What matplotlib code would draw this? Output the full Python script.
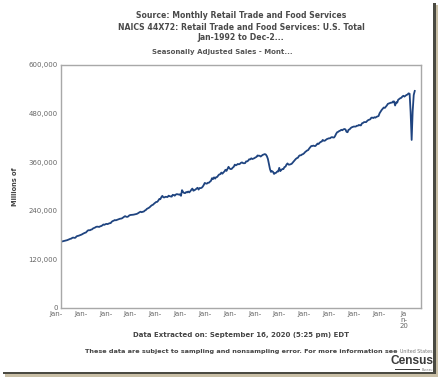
import matplotlib
matplotlib.use("Agg")
import matplotlib.pyplot as plt
import matplotlib.transforms as mtransforms
from matplotlib.patches import Rectangle
import pandas as pd

# Monthly sales (thousands of millions -> values in millions), Jan-1992 .. Jul-2020
sales_1992 = [164.1, 164.3, 164.9, 165.8, 166.4, 167.0, 167.5, 168.6, 169.5, 170.8, 171.4, 173.4]
sales_1993 = [173.8, 173.2, 173.6, 176.8, 177.8, 178.4, 179.3, 180.1, 181.4, 183.0, 184.3, 185.6]
sales_1994 = [186.3, 188.9, 191.4, 192.2, 191.9, 193.4, 194.1, 196.5, 197.6, 198.7, 200.4, 200.9]
sales_1995 = [200.6, 200.2, 201.8, 202.4, 204.0, 206.2, 205.3, 206.9, 207.7, 207.1, 208.3, 209.4]
sales_1996 = [209.6, 212.9, 214.6, 215.6, 217.2, 216.5, 217.4, 218.2, 219.3, 220.4, 220.7, 221.5]
sales_1997 = [223.5, 225.3, 226.8, 225.4, 224.9, 226.0, 228.5, 229.6, 229.8, 230.1, 230.4, 231.0]
sales_1998 = [231.9, 232.2, 233.2, 235.0, 236.5, 237.8, 236.5, 237.6, 238.1, 240.5, 241.9, 244.7]
sales_1999 = [246.0, 247.5, 249.4, 252.0, 253.9, 255.0, 257.6, 259.6, 261.8, 262.0, 265.0, 269.0]
sales_2000 = [268.6, 273.7, 276.9, 273.2, 273.1, 274.6, 274.4, 274.0, 277.3, 276.2, 275.4, 275.0]
sales_2001 = [279.5, 278.6, 277.3, 280.1, 281.2, 280.5, 280.1, 280.7, 277.0, 291.0, 286.5, 284.0]
sales_2002 = [283.6, 286.3, 285.4, 287.6, 285.4, 288.2, 291.8, 294.9, 289.6, 290.8, 292.5, 294.8]
sales_2003 = [296.9, 292.4, 296.2, 296.0, 296.8, 299.5, 303.6, 308.8, 307.5, 306.9, 309.3, 309.2]
sales_2004 = [311.9, 314.1, 320.6, 318.3, 322.6, 319.4, 323.0, 323.5, 327.3, 329.8, 330.4, 334.4]
sales_2005 = [331.6, 334.8, 337.1, 341.3, 338.4, 343.3, 348.6, 344.4, 343.0, 343.4, 346.6, 348.6]
sales_2006 = [354.0, 352.2, 353.6, 355.7, 354.8, 356.0, 358.4, 359.5, 357.7, 357.4, 357.8, 362.0]
sales_2007 = [362.0, 364.0, 367.3, 366.9, 369.6, 367.8, 369.0, 370.0, 371.8, 373.0, 376.6, 376.0]
sales_2008 = [376.0, 374.0, 376.0, 378.0, 379.0, 380.0, 379.0, 375.0, 368.0, 356.0, 343.0, 336.0]
sales_2009 = [338.0, 336.0, 331.0, 333.0, 334.0, 337.0, 337.0, 346.0, 338.0, 341.0, 343.0, 343.0]
sales_2010 = [348.0, 349.0, 354.0, 357.0, 354.0, 354.0, 355.0, 356.0, 359.0, 362.0, 365.0, 368.0]
sales_2011 = [370.0, 371.0, 375.0, 377.0, 377.0, 379.0, 380.0, 382.0, 385.0, 387.0, 389.0, 390.0]
sales_2012 = [394.0, 397.0, 400.0, 400.0, 401.0, 400.0, 400.0, 403.0, 406.0, 405.0, 408.0, 410.0]
sales_2013 = [411.0, 415.0, 413.0, 413.0, 415.0, 417.0, 418.0, 419.0, 419.0, 421.0, 422.0, 421.0]
sales_2014 = [421.0, 425.0, 430.0, 434.0, 435.0, 437.0, 438.0, 440.0, 439.0, 441.0, 442.0, 441.0]
sales_2015 = [435.0, 434.0, 440.0, 441.0, 444.0, 446.0, 447.0, 448.0, 448.0, 448.0, 450.0, 450.0]
sales_2016 = [452.0, 451.0, 451.0, 456.0, 457.0, 459.0, 459.0, 459.0, 462.0, 464.0, 465.0, 466.0]
sales_2017 = [470.0, 470.0, 469.0, 471.0, 470.0, 472.0, 473.0, 474.0, 481.0, 485.0, 489.0, 492.0]
sales_2018 = [495.0, 494.0, 497.0, 500.0, 504.0, 505.0, 506.0, 507.0, 507.0, 510.0, 510.0, 500.0]
sales_2019 = [508.0, 507.0, 514.0, 516.0, 518.0, 519.0, 522.0, 524.0, 522.0, 524.0, 526.0, 527.0]
sales_2020 = [530.0, 529.0, 484.0, 415.0, 486.0, 526.0, 536.0]

yearly = [sales_1992, sales_1993, sales_1994, sales_1995, sales_1996, sales_1997,
          sales_1998, sales_1999, sales_2000, sales_2001, sales_2002, sales_2003,
          sales_2004, sales_2005, sales_2006, sales_2007, sales_2008, sales_2009,
          sales_2010, sales_2011, sales_2012, sales_2013, sales_2014, sales_2015,
          sales_2016, sales_2017, sales_2018, sales_2019, sales_2020]
values = [v * 1000 for yr in yearly for v in yr]
dates = pd.date_range("1992-01-01", periods=len(values), freq="MS")

tick_years = list(range(1992, 2021, 2))
tick_labels = ["Jan-"] * (len(tick_years) - 1) + ["Ja\nn-\n20"]
y_ticks = [0, 120000, 240000, 360000, 480000, 600000]
y_tick_labels = ["0", "120,000", "240,000", "360,000", "480,000", "600,000"]

W, H = 439, 377
fig = plt.figure(figsize=(W / 100, H / 100), dpi=100)
fig.patch.set_facecolor("white")

def fx(px):
    return px / W

def fy(py):
    return 1 - py / H

ax = fig.add_axes([fx(61), fy(308), fx(421) - fx(61), fy(65) - fy(308)])
ax.plot(dates, values, color="#1f4480", lw=1.3, solid_joinstyle="round")
ax.set_xlim(pd.Timestamp("1992-01-01"), pd.Timestamp("2021-01-01"))
ax.set_ylim(0, 600000)
for s in ax.spines.values():
    s.set_color("#a8a8a8")
    s.set_linewidth(1.0)

ax.set_xticks([pd.Timestamp(f"{y}-01-01") for y in tick_years])
ax.set_xticklabels(tick_labels, fontsize=5, color="#666666", linespacing=1.0, va="top")
ax.set_yticks(y_ticks)
ax.set_yticklabels(y_tick_labels, fontsize=5, color="#666666")
ax.tick_params(axis="both", length=0)
ax.tick_params(axis="x", pad=2)
ax.tick_params(axis="y", pad=2.5)
offset = mtransforms.ScaledTranslation(-5 / 100, 0, fig.dpi_scale_trans)
for lab in ax.get_xticklabels():
    lab.set_transform(lab.get_transform() + offset)

fig.text(fx(15), fy(187), "Millions of", rotation=90, fontsize=4.8, fontweight="bold",
         color="#444444", ha="center", va="center")

title_kw = dict(fontsize=5.6, fontweight="bold", color="#4a4a4a", ha="center", va="center")
fig.text(fx(241), fy(16), "Source: Monthly Retail Trade and Food Services", **title_kw)
fig.text(fx(241), fy(27), "NAICS 44X72: Retail Trade and Food Services: U.S. Total", **title_kw)
fig.text(fx(241), fy(38), "Jan-1992 to Dec-2...", **title_kw)
fig.text(fx(222), fy(52), "Seasonally Adjusted Sales - Mont...", fontsize=5, fontweight="bold",
         color="#555555", ha="center", va="center")

fig.text(fx(241), fy(335), "Data Extracted on: September 16, 2020 (5:25 pm) EDT", fontsize=5,
         fontweight="bold", color="#444444", ha="center", va="center")
fig.text(fx(241), fy(351), "These data are subject to sampling and nonsampling error. For more information see",
         fontsize=4.65, fontweight="bold", color="#444444", ha="center", va="center")

# Census logo as text
fig.text(fx(433), fy(351.5), "United States", fontsize=3.4, color="#777777", ha="right", va="center")
fig.text(fx(433.5), fy(361.5), "Census", fontsize=8.6, fontweight="bold", color="#3a3a3a",
         ha="right", va="center", family=["Liberation Sans", "DejaVu Sans"])
fig.add_artist(Rectangle((fx(395), fy(370)), fx(420) - fx(395), fy(368.8) - fy(370),
                         transform=fig.transFigure, color="#3a3a3a", lw=0))
fig.text(fx(433), fy(370.3), "Bureau", fontsize=2.3, color="#777777", ha="right", va="center")

# frame shadow
fig.add_artist(Rectangle((fx(433), fy(374)), fx(436) - fx(433), fy(3) - fy(374),
                         transform=fig.transFigure, color="#4a4a42", lw=0))
fig.add_artist(Rectangle((fx(436), fy(377)), fx(439) - fx(436), fy(5) - fy(377),
                         transform=fig.transFigure, color="#c9bfa6", lw=0))
fig.add_artist(Rectangle((fx(3), fy(374)), fx(436) - fx(3), fy(371.5) - fy(374),
                         transform=fig.transFigure, color="#4a4a42", lw=0))
fig.add_artist(Rectangle((fx(5), fy(377)), fx(436) - fx(5), fy(374) - fy(377),
                         transform=fig.transFigure, color="#c9bfa6", lw=0))

fig.savefig("out.png", dpi=100, facecolor="white")
